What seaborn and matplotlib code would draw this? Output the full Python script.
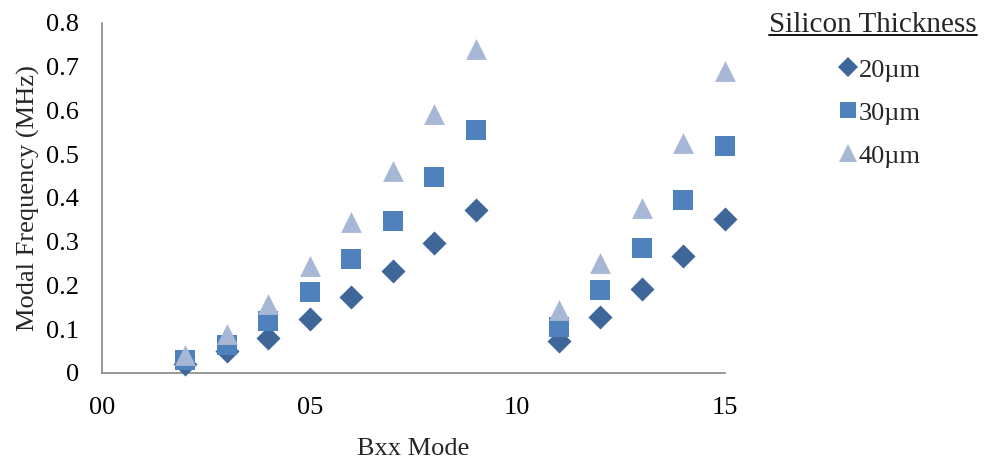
import matplotlib
matplotlib.use("Agg")
import matplotlib.pyplot as plt
from matplotlib.lines import Line2D
import seaborn as sns
import pandas as pd

# Bxx mode numbers and modal frequencies (MHz) per silicon thickness
modes = [2, 3, 4, 5, 6, 7, 8, 9, 11, 12, 13, 14, 15]
freq_20um = [0.020, 0.050, 0.080, 0.123, 0.174, 0.233, 0.298, 0.373, 0.074, 0.128, 0.193, 0.267, 0.352]
freq_30um = [0.030, 0.065, 0.119, 0.185, 0.260, 0.348, 0.447, 0.556, 0.105, 0.190, 0.285, 0.395, 0.519]
freq_40um = [0.040, 0.090, 0.158, 0.245, 0.345, 0.462, 0.592, 0.740, 0.143, 0.252, 0.377, 0.525, 0.690]
series_names = ["20\u00b5m", "30\u00b5m", "40\u00b5m"]
x_ticks = [0, 5, 10, 15]
x_tick_labels = ["00", "05", "10", "15"]
y_ticks = [0, 0.1, 0.2, 0.3, 0.4, 0.5, 0.6, 0.7, 0.8]
y_tick_labels = ["0", "0.1", "0.2", "0.3", "0.4", "0.5", "0.6", "0.7", "0.8"]

df = pd.concat([
    pd.DataFrame({"mode": modes, "freq": vals, "thickness": name})
    for name, vals in zip(series_names, [freq_20um, freq_30um, freq_40um])
])

colors = {"20\u00b5m": "#3E6699", "30\u00b5m": "#4F81BD", "40\u00b5m": "#A7B8D6"}
markers = {"20\u00b5m": "D", "30\u00b5m": "s", "40\u00b5m": "^"}
sizes = {"20\u00b5m": 150, "30\u00b5m": 208, "40\u00b5m": 225}
legend_ms = {"20\u00b5m": 10.5, "30\u00b5m": 12.2, "40\u00b5m": 12.4}

sns.set_style("white")
plt.rcParams["font.family"] = ["Liberation Serif", "DejaVu Serif"]
FS = 19
AXIS_GRAY = "#878787"

fig = plt.figure(figsize=(9.84, 4.59), dpi=100)
ax = fig.add_axes([0.1037, 0.1874, 0.633, 0.7626])

for name in series_names:
    sub = df[df["thickness"] == name]
    sns.scatterplot(data=sub, x="mode", y="freq", color=colors[name],
                    marker=markers[name], s=sizes[name], linewidth=0,
                    ax=ax, legend=False, zorder=3, clip_on=False)

ax.set_xlim(0, 15)
ax.set_ylim(0, 0.8)
ax.set_xticks(x_ticks)
ax.set_xticklabels(x_tick_labels)
ax.set_yticks(y_ticks)
ax.set_yticklabels(y_tick_labels)
ax.tick_params(axis="both", direction="out", length=5, width=1.2,
               color=AXIS_GRAY, labelsize=FS, labelcolor="black")
ax.tick_params(axis="x", pad=12)
ax.tick_params(axis="y", pad=11.5)
for side in ["top", "right"]:
    ax.spines[side].set_visible(False)
for side in ["left", "bottom"]:
    ax.spines[side].set_color(AXIS_GRAY)
    ax.spines[side].set_linewidth(1.2)

ax.set_xlabel("Bxx Mode", fontsize=FS, labelpad=14)
ax.set_ylabel("Modal Frequency (MHz)", fontsize=FS, labelpad=4.5)

# Legend entries below an underlined heading
handles = [Line2D([], [], linestyle="none", marker=markers[n], color=colors[n],
                  markersize=legend_ms[n], markeredgewidth=0)
           for n in series_names]
fig.legend(handles, series_names, loc="upper left",
           bbox_to_anchor=(0.8392, 0.902), frameon=False, fontsize=FS,
           handlelength=0.7, handletextpad=0.05, labelspacing=0.74,
           borderpad=0)
title = fig.text(0.9929, 0.930, "Silicon Thickness", fontsize=21,
                 ha="right", va="baseline")

fig.canvas.draw()
bb = title.get_window_extent().transformed(fig.transFigure.inverted())
fig.add_artist(Line2D([bb.x0, bb.x1], [0.9237, 0.9237],
                      transform=fig.transFigure, color="black", linewidth=1.3))

fig.savefig("out.png", dpi=100)
